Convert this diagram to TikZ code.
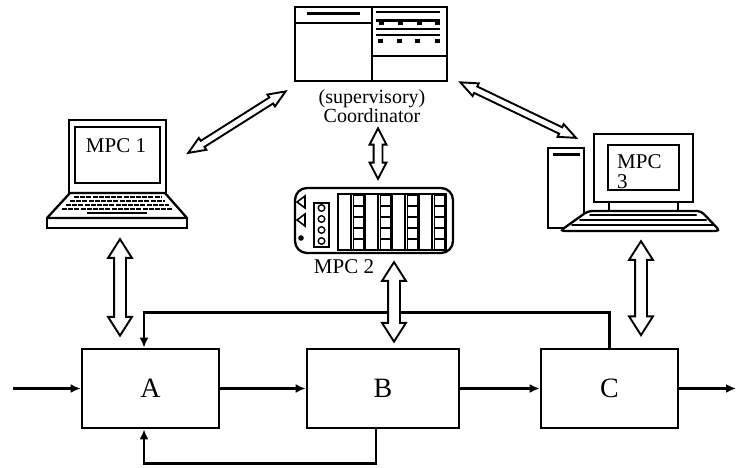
\documentclass[tikz,border=0pt]{standalone}
\usepackage{fontspec}
\setmainfont{Liberation Serif}
\usetikzlibrary{shapes.arrows,arrows.meta,positioning,calc}

% hollow two-headed link between two points
\newcommand{\linkarrow}[3][]{%
  \path let \p1=($(#3)-(#2)$), \n1={veclen(\x1,\y1)} in
    (#2) -- (#3) node[midway, sloped, link, minimum height=\n1, #1] {};}

\begin{document}
\begin{tikzpicture}[x=1pt, y=-1pt,
    block/.style={draw, line width=2.7pt, minimum height=79pt, font=\fontsize{28}{30}\selectfont},
    flow/.style={line width=2.7pt, -{Latex[length=10pt,width=9pt]}},
    link/.style={double arrow, draw, fill=white, line width=1.9pt, inner sep=5pt,
      double arrow head extend=6pt, double arrow tip angle=65},
    midlink/.style={inner sep=3.5pt, double arrow head extend=4pt, double arrow tip angle=55},
    thinlink/.style={inner sep=2.6pt, double arrow head extend=3.5pt, double arrow tip angle=45},
    devname/.style={font=\fontsize{21}{20}\selectfont, inner sep=0pt},
    frame/.style={draw, line width=2.3pt}]
\useasboundingbox (0,0) rectangle (736,468);

% process blocks
\node[block, minimum width=137pt] (A) at (150.5,388.5) {A};
\node[block, minimum width=152pt] (B) at (383,388.5) {B};
\node[block, minimum width=137pt] (C) at (609.5,388.5) {C};
\coordinate (in) at (13,388.5);
\coordinate (out) at (736,388.5);

\draw[flow] (in) -- (A);
\draw[flow] (A) -- (B);
\draw[flow] (B) -- (C);
\draw[flow] (C) -- (out);

% recycle loops
\draw[flow] ([xshift=-7pt]B.south) -- ++(0,34) -| ([xshift=-6.5pt]A.south);
\draw[flow] (C.north) -- ++(0,-35) -| ([xshift=-6.5pt]A.north);

% coordinator screen
\node[frame, line width=2.7pt, minimum width=152pt, minimum height=74pt] (coord) at (371,44) {};
\draw[line width=2.3pt] (372,7) -- (372,81);
\draw[line width=2.3pt] (295,23) -- (372,23);
\draw[line width=3pt] (307,14) -- (360,14);
\draw[line width=2.3pt] (372,56) -- (447,56);
\draw[line width=2pt] (376,12) -- (440,12);
\draw[line width=3pt] (376,21) -- (440,21);
\foreach \x in {381,400,419,437} \fill (\x-2.5,22) rectangle ++(5,3.5);
\draw[line width=2.4pt] (376,29) -- (440,29);
\draw[line width=2.4pt] (376,35) -- (440,35);
\foreach \x in {380,399,417,437} \fill (\x-2.5,39) rectangle ++(5,4);
\node[devname, font=\fontsize{20}{17}\selectfont, align=center] (coordlbl) at (372,106) {(supervisory)\\Coordinator};

% MPC 1 laptop
\node[frame, minimum width=97pt, minimum height=73pt] (scr1) at (117.5,156.5) {};
\draw[line width=1.8pt] (75,127) rectangle (160,183);
\node[devname] (mpc1) at (116,146) {MPC 1};
\draw[line width=2.3pt, line join=round] (70,193) -- (165,193) -- (187,218) -- (47,218) -- cycle;
\node[frame, minimum width=140pt, minimum height=10pt] (base1) at (117,223) {};
\foreach \y/\l/\r in {197/74/161, 201/70/165, 205/66/169, 209/62/173}
  \draw[line width=1.8pt, dash pattern=on 5pt off 1.2pt] (\l,\y) -- (\r,\y);
\draw[line width=2.4pt] (87,213) -- (147,213);

% MPC 2 controller rack
\node[frame, rounded corners=12pt, minimum width=158pt, minimum height=65pt] (plc) at (374,220.5) {};
\draw[line width=1.6pt] (297,202) -- (305,196) -- (305,208) -- cycle;
\draw[line width=1.6pt] (297,220) -- (305,214) -- (305,226) -- cycle;
\fill (301,238) circle (2.8pt);
\draw[line width=1.6pt] (314,203) rectangle (329,247);
\foreach \y in {208,219,230,241} \draw[line width=1.4pt] (321.5,\y) circle (3.3pt);
\foreach \k in {0,...,3} {
  \draw[line width=1.5pt] (338+27*\k,194) rectangle ++(27,56);
  \draw[line width=1.3pt] (351+27*\k,194) -- (351+27*\k,250);
  \foreach \j in {0,...,4}
    \draw[line width=0.9pt] (353+27*\k,195+11*\j) rectangle ++(10,10);
  \draw[line width=2.8pt] (365+27*\k,194) -- (365+27*\k,250);
}
\node[devname] (mpc2) at (344,267) {MPC 2};

% MPC 3 desktop
\node[frame, minimum width=36pt, minimum height=80pt] (tower) at (566,188) {};
\draw[line width=3pt] (553,154) -- (580,154);
\node[frame, minimum width=99pt, minimum height=68pt] (mon3) at (643.5,168) {};
\draw[line width=1.8pt] (608,145) rectangle (679,190);
\node[devname, align=left, anchor=north west] (mpc3) at (617,154) {MPC\\3};
\draw[line width=2.3pt] (609,202) -- (609,211) (678,202) -- (678,211);
\draw[line width=2.3pt, fill=white, rounded corners=4pt] (588,211) -- (701,211) -- (720,231) -- (560,231) -- cycle;
\foreach \y/\l/\r in {215/590/696, 220/580/706, 225/572/713}
  \draw[line width=2pt, line cap=round] (\l,\y) -- (\r,\y);

% links
\linkarrow[thinlink]{[xshift=-8pt,yshift=-9pt]coord.south west}{[xshift=21pt,yshift=3.5pt]scr1.east}
\linkarrow[thinlink]{[xshift=12pt]coord.south east}{[xshift=10pt,yshift=9pt]tower.north}
\linkarrow[midlink]{[xshift=7pt,yshift=-46pt]coord.south}{[xshift=4pt,yshift=8pt]plc.north}
\linkarrow{[xshift=3pt,yshift=-10pt]base1.south}{[xshift=-30.5pt,yshift=12pt]A.north}
\linkarrow{[xshift=20pt,yshift=-8pt]plc.south}{[xshift=11pt,yshift=6pt]B.north}
\linkarrow{[xshift=-2.5pt,yshift=-38pt]mon3.south}{[xshift=31.5pt,yshift=12.5pt]C.north}
\end{tikzpicture}
\end{document}
